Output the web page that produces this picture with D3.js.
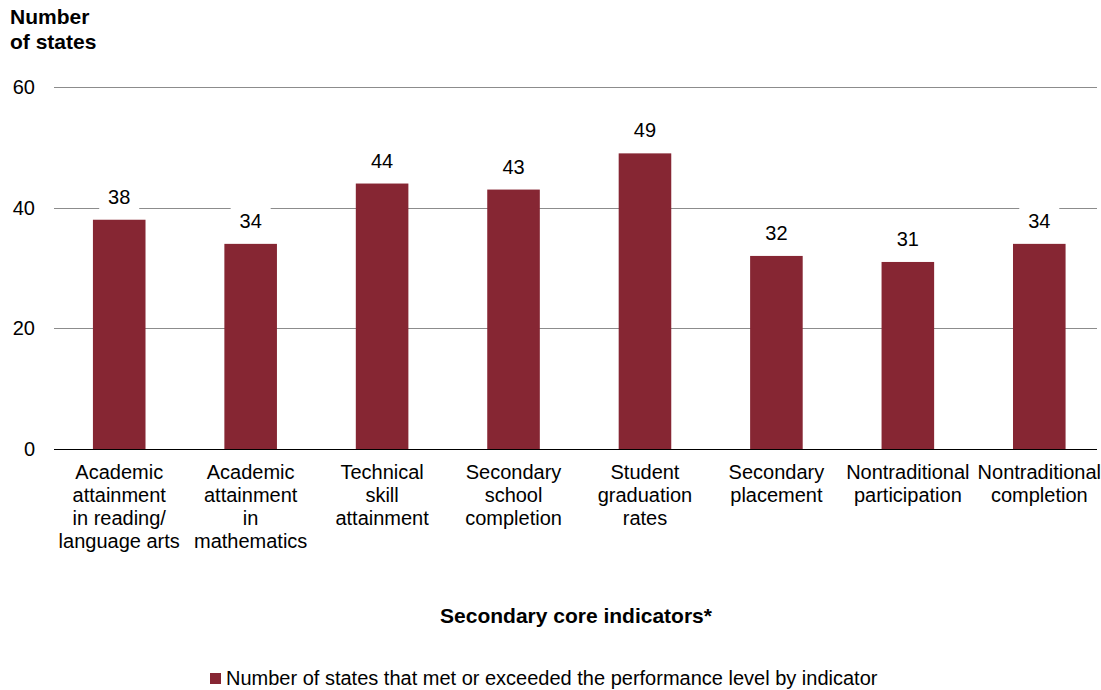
<!DOCTYPE html>
<html><head><meta charset="utf-8">
<script src="https://cdn.jsdelivr.net/npm/d3@7"></script>
<style>body{margin:0;background:#fff}svg{font-family:"Liberation Sans",Arial,sans-serif}</style>
</head><body>
<svg id="c" width="1101" height="690"></svg>
<script>
const categories = [
  ["Academic","attainment","in reading/","language arts"],
  ["Academic","attainment","in","mathematics"],
  ["Technical","skill","attainment"],
  ["Secondary","school","completion"],
  ["Student","graduation","rates"],
  ["Secondary","placement"],
  ["Nontraditional","participation"],
  ["Nontraditional","completion"]
];
const values = [38, 34, 44, 43, 49, 32, 31, 34];
const yTicks = [0, 20, 40, 60];
const seriesName = "Number of states that met or exceeded the performance level by indicator";
const yTitle = ["Number","of states"];
const xTitle = "Secondary core indicators*";

const svg = d3.select("#c");
const pLeft = 54, pRight = 1097, pTop = 87, pBottom = 449;
const barColor = "#862633";
const x = d3.scaleBand().domain(d3.range(values.length)).range([53.5, 1105]).paddingInner(0.6).paddingOuter(0.3);
const y = d3.scaleLinear().domain([0, 60]).range([pBottom, pTop]);

// gridlines
svg.append("g").selectAll("line").data(yTicks.filter(d => d > 0)).join("line")
  .attr("x1", pLeft).attr("x2", pRight)
  .attr("y1", d => Math.round(y(d)) + 0.5).attr("y2", d => Math.round(y(d)) + 0.5)
  .attr("stroke", "#8c8c8c").attr("stroke-width", 1);

// y tick labels
svg.append("g").selectAll("text").data(yTicks).join("text")
  .attr("x", 35).attr("y", d => y(d) + 7)
  .attr("text-anchor", "end").attr("font-size", 20).attr("fill", "#000")
  .text(d => d);

// bars
svg.append("g").selectAll("rect").data(values).join("rect")
  .attr("x", (d, i) => x(i)).attr("width", x.bandwidth())
  .attr("y", d => y(d)).attr("height", d => y(0) - y(d))
  .attr("fill", barColor);

// value label backgrounds (labels mask gridlines)
svg.append("g").selectAll("rect").data(values).join("rect")
  .attr("x", (d, i) => x(i) + x.bandwidth() / 2 - 20).attr("width", 40)
  .attr("y", d => y(d) - 36).attr("height", 26)
  .attr("fill", "#fff");

// value labels
svg.append("g").selectAll("text").data(values).join("text")
  .attr("x", (d, i) => x(i) + x.bandwidth() / 2).attr("y", d => y(d) - 16)
  .attr("text-anchor", "middle").attr("font-size", 20).attr("fill", "#000")
  .text(d => d);

// baseline
svg.append("line").attr("x1", pLeft).attr("x2", pRight)
  .attr("y1", pBottom + 0.5).attr("y2", pBottom + 0.5)
  .attr("stroke", "#000").attr("stroke-width", 1);

// category labels
const cl = svg.append("g").selectAll("text").data(categories).join("text")
  .attr("x", (d, i) => x(i) + x.bandwidth() / 2)
  .attr("y", 479).attr("text-anchor", "middle").attr("font-size", 20).attr("fill", "#000");
cl.selectAll("tspan").data(d => d).join("tspan")
  .attr("x", function() { return d3.select(this.parentNode).attr("x"); })
  .attr("dy", (d, i) => i === 0 ? 0 : 23)
  .text(d => d);

// y title
svg.append("text").attr("x", 10).attr("y", 24).attr("font-size", 21).attr("font-weight", "bold")
  .selectAll("tspan").data(yTitle).join("tspan").attr("x", 10).attr("dy", (d, i) => i ? 25 : 0).text(d => d);

// x title
svg.append("text").attr("x", 576).attr("y", 623).attr("text-anchor", "middle")
  .attr("font-size", 21).attr("font-weight", "bold").text(xTitle);

// legend
svg.append("rect").attr("x", 210).attr("y", 673).attr("width", 11).attr("height", 11).attr("fill", barColor);
svg.append("text").attr("x", 226).attr("y", 685).attr("font-size", 20).attr("fill", "#000").text(seriesName);
</script>
</body></html>
